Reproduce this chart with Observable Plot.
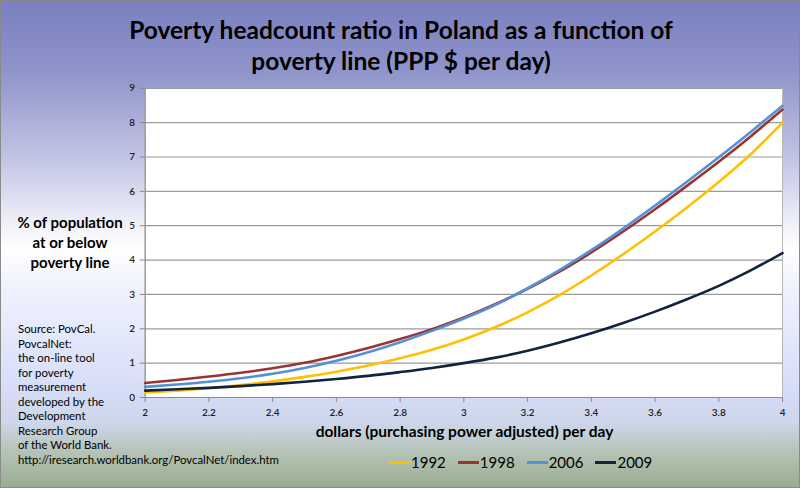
<!DOCTYPE html>
<html>
<head>
<meta charset="utf-8">
<script src="https://cdn.jsdelivr.net/npm/d3@7"></script>
<script src="https://cdn.jsdelivr.net/npm/@observablehq/plot@0.6"></script>
<style>
  html, body { margin: 0; padding: 0; }
  body { width: 800px; height: 488px; overflow: hidden; font-family: Lato, "Open Sans", sans-serif; }
  #wrap {
    position: relative; width: 798px; height: 486px; border: 1px solid #8a8a8a;
    background: linear-gradient(to bottom, #7a7fc0 0%, #9095cb 15%, #c4c6e6 33%, #f4f4fb 47%, #ffffff 51%, #eef1fd 60%, #d6ddf8 80%, #cdd6ea 87%, #b4c2b4 93%, #99ad91 100%);
  }
  .abs { position: absolute; }
  #title { left: 0; width: 800px; top: 13px; text-align: center; font-weight: 700; font-size: 24.5px; line-height: 31px; color: #000; }
  #ylab { left: 8px; width: 122px; top: 211px; text-align: center; font-weight: 700; font-size: 15px; line-height: 20px; }
  #src { left: 17px; top: 321px; font-size: 11.4px; line-height: 14.5px; white-space: nowrap; }
  #xlab { left: 144px; width: 639px; top: 421px; text-align: center; font-weight: 700; font-size: 15.5px; }
  #legend { left: 388px; top: 452px; font-size: 15px; display: flex; align-items: center; }
  #legend .item { display: flex; align-items: center; margin-right: 12px; }
  #legend .sw { width: 21px; height: 3px; margin-right: 1px; }
  #plot { left: 0; top: 0; }
</style>
</head>
<body>
<div id="wrap">
  <div id="plot" class="abs"></div>
  <div id="title" class="abs"></div>
  <div id="ylab" class="abs"></div>
  <div id="src" class="abs"></div>
  <div id="xlab" class="abs"></div>
  <div id="legend" class="abs"></div>
</div>
<script>
const titleLines = ["Poverty headcount ratio in Poland as a function of", "poverty line (PPP $ per day)"];
const yLabelLines = ["% of population", "at or below", "poverty line"];
const xLabel = "dollars (purchasing power adjusted) per day";
const sourceLines = ["Source: PovCal.", "PovcalNet:", "the on-line tool", "for poverty", "measurement", "developed by the", "Development", "Research Group", "of the World Bank.", "http://iresearch.worldbank.org/PovcalNet/index.htm"];

const povertyLine = [2.0, 2.1, 2.2, 2.3, 2.4, 2.5, 2.6, 2.7, 2.8, 2.9, 3.0, 3.1, 3.2, 3.3, 3.4, 3.5, 3.6, 3.7, 3.8, 3.9, 4.0];
const years = ["1992", "1998", "2006", "2009"];
const h1992 = [0.15, 0.20, 0.27, 0.36, 0.47, 0.60, 0.75, 0.93, 1.14, 1.39, 1.69, 2.05, 2.48, 2.98, 3.55, 4.17, 4.83, 5.53, 6.27, 7.08, 8.00];
const h1998 = [0.42, 0.51, 0.61, 0.72, 0.85, 1.01, 1.21, 1.44, 1.70, 1.99, 2.33, 2.72, 3.16, 3.66, 4.22, 4.83, 5.48, 6.16, 6.86, 7.60, 8.38];
const h2006 = [0.31, 0.38, 0.46, 0.56, 0.69, 0.86, 1.07, 1.32, 1.61, 1.94, 2.30, 2.70, 3.18, 3.71, 4.29, 4.92, 5.59, 6.28, 6.99, 7.73, 8.49];
const h2009 = [0.20, 0.24, 0.28, 0.33, 0.39, 0.46, 0.54, 0.63, 0.74, 0.86, 1.00, 1.16, 1.36, 1.60, 1.87, 2.17, 2.50, 2.86, 3.25, 3.70, 4.20];
const colors = ["#ffc000", "#9b3431", "#5590d6", "#10233f"];
const xTicks = [2, 2.2, 2.4, 2.6, 2.8, 3, 3.2, 3.4, 3.6, 3.8, 4];
const yTicks = [0, 1, 2, 3, 4, 5, 6, 7, 8, 9];

const seriesValues = [h1992, h1998, h2006, h2009];
const data = [];
years.forEach((yr, i) => povertyLine.forEach((x, j) => data.push({year: yr, x, y: seriesValues[i][j]})));

document.getElementById("title").innerHTML = titleLines.join("<br>");
document.getElementById("ylab").innerHTML = yLabelLines.join("<br>");
document.getElementById("src").innerHTML = sourceLines.join("<br>");
document.getElementById("xlab").textContent = xLabel;
const leg = document.getElementById("legend");
years.forEach((yr, i) => {
  const it = document.createElement("div"); it.className = "item";
  it.innerHTML = `<span class="sw" style="background:${colors[i]}"></span><span>${yr}</span>`;
  leg.appendChild(it);
});

const chart = Plot.plot({
  width: 800, height: 488,
  marginLeft: 144, marginRight: 17, marginTop: 87, marginBottom: 91,
  style: {background: "transparent", fontFamily: "Lato, sans-serif", fontSize: "10px", color: "#222"},
  x: {domain: [2, 4], ticks: xTicks, tickFormat: d3.format("~g"), label: null, tickSize: 5, tickPadding: 6},
  y: {domain: [0, 9], ticks: yTicks, label: null, tickSize: 5, tickPadding: 5},
  color: {domain: years, range: colors},
  marks: [
    Plot.frame({fill: "white", stroke: "#b8b8b8"}),
    Plot.gridY(yTicks, {stroke: "#9a9a9a", strokeOpacity: 1, strokeWidth: 1.2}),
    Plot.axisY(yTicks, {tickSize: 5, tickPadding: 5, stroke: "#8a8a8a", fill: "#222", fontWeight: 600}),
    Plot.axisX(xTicks, {tickSize: 5, tickPadding: 6, stroke: "#8a8a8a", fill: "#222", fontWeight: 600, tickFormat: d3.format("~g")}),
    Plot.ruleX([2], {stroke: "#8a8a8a"}),
    Plot.ruleY([0], {stroke: "#8a8a8a"}),
    Plot.line(data, {x: "x", y: "y", z: "year", stroke: "year", strokeWidth: 2.6, curve: "monotone-x"})
  ]
});
document.getElementById("plot").appendChild(chart);
</script>
</body>
</html>
